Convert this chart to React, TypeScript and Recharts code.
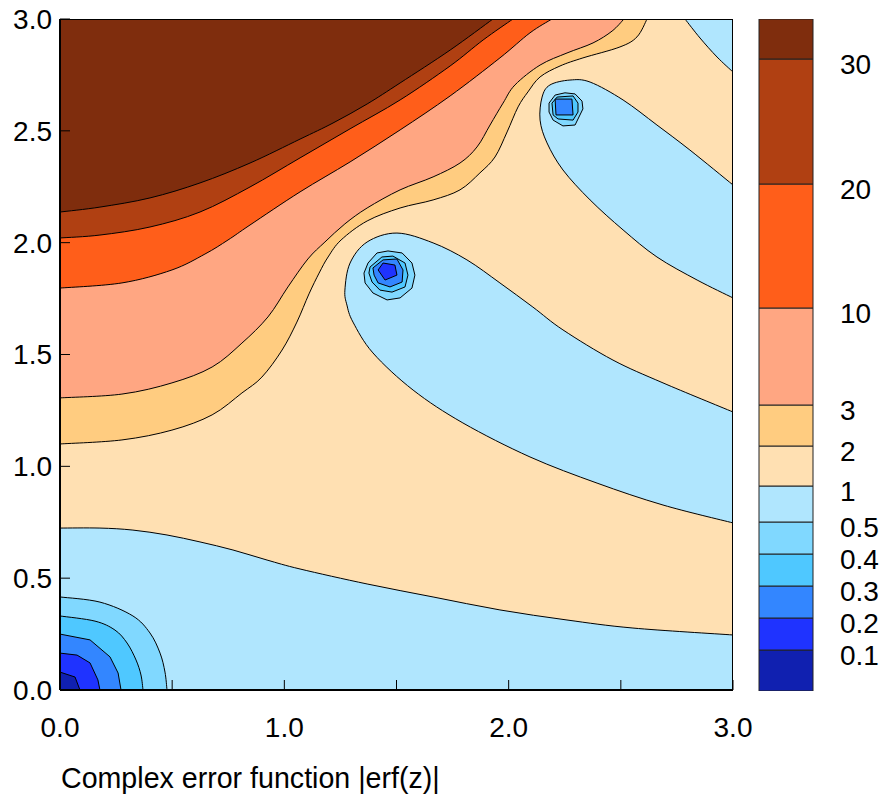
import { Bar, BarChart, Scatter, ScatterChart, XAxis, YAxis } from "recharts"

// Contour outlines of |erf(z)|, as [x, y] in plot units.
// Each one is a filled polygon; they are painted low level first, so the
// later (inner) levels cover the earlier ones.
const PLOT_BOX = [[0, 0], [0, 3], [3, 3], [3, 0], [0, 0]]

const ABOVE_2 = [
  [0, 1.1], [0.276, 1.118], [0.499, 1.162], [0.678, 1.23], [0.811, 1.328],
  [0.9, 1.399], [0.99, 1.52], [1.056, 1.645], [1.11, 1.771], [1.155, 1.864],
  [1.195, 1.936], [1.253, 2.012], [1.369, 2.097], [1.516, 2.155], [1.663, 2.191],
  [1.783, 2.236], [1.872, 2.312], [1.939, 2.383], [1.993, 2.495], [2.042, 2.607],
  [2.086, 2.674], [2.14, 2.741], [2.229, 2.79], [2.331, 2.826], [2.496, 2.875],
  [2.572, 2.92], [2.617, 3], [0, 3],
]
const ABOVE_3 = [
  [0, 1.306], [0.276, 1.323], [0.499, 1.373], [0.678, 1.444], [0.811, 1.551],
  [0.927, 1.668], [1.016, 1.802], [1.105, 1.927], [1.181, 2.003], [1.27, 2.084],
  [1.369, 2.155], [1.516, 2.236], [1.663, 2.294], [1.783, 2.356], [1.859, 2.428],
  [1.917, 2.526], [1.975, 2.624], [2.028, 2.705], [2.14, 2.794], [2.26, 2.848],
  [2.376, 2.893], [2.461, 2.946], [2.514, 3], [0, 3],
]
const ABOVE_10 = [
  [0, 1.797], [0.276, 1.82], [0.499, 1.878], [0.646, 1.949], [0.749, 2.012],
  [0.847, 2.079], [1.07, 2.227], [1.293, 2.361], [1.516, 2.504], [1.739, 2.656],
  [1.961, 2.826], [2.095, 2.938], [2.193, 3], [0, 3],
]
const ABOVE_20 = [
  [0, 2.021], [0.178, 2.034], [0.401, 2.07], [0.624, 2.137], [0.847, 2.249],
  [1.07, 2.379], [1.293, 2.509], [1.516, 2.638], [1.739, 2.79], [1.886, 2.906],
  [2.019, 3], [0, 3],
]
const ABOVE_30 = [
  [0, 2.137], [0.178, 2.159], [0.401, 2.2], [0.624, 2.267], [0.847, 2.356],
  [1.07, 2.463], [1.217, 2.535], [1.369, 2.62], [1.516, 2.714], [1.739, 2.861],
  [1.93, 3], [0, 3],
]

const BELOW_1_CORNER = [[2.786, 3], [2.853, 2.915], [2.929, 2.83], [3, 2.763], [3, 3]]
const BELOW_1_UPPER = [
  [3, 2.258], [2.808, 2.414], [2.661, 2.526], [2.51, 2.638], [2.363, 2.718],
  [2.273, 2.727], [2.184, 2.705], [2.149, 2.651], [2.14, 2.548], [2.171, 2.446],
  [2.242, 2.325], [2.363, 2.191], [2.51, 2.057], [2.661, 1.936], [2.84, 1.833],
  [3, 1.753],
]
const BELOW_1_LOWER = [
  [3, 1.243], [2.688, 1.373], [2.465, 1.475], [2.242, 1.61], [2.108, 1.712],
  [1.961, 1.82], [1.814, 1.923], [1.663, 1.999], [1.502, 2.043], [1.369, 2.003],
  [1.293, 1.909], [1.27, 1.788], [1.279, 1.721], [1.306, 1.645], [1.395, 1.507],
  [1.574, 1.341], [1.796, 1.194], [2.095, 1.042], [2.394, 0.925], [2.688, 0.827],
  [3, 0.747],
]
const BELOW_1_BOTTOM = [
  [0, 0.724], [0.178, 0.724], [0.325, 0.715], [0.477, 0.693], [0.624, 0.662],
  [0.771, 0.626], [0.923, 0.581], [1.07, 0.541], [1.369, 0.474], [1.663, 0.416],
  [1.961, 0.358], [2.26, 0.313], [2.554, 0.277], [3, 0.246], [3, 0], [0, 0],
]

// nested rings round the origin
const BELOW_05_ORIGIN = [
  [0, 0.416], [0.178, 0.393], [0.325, 0.331], [0.401, 0.255], [0.446, 0.165],
  [0.468, 0.08], [0.477, 0], [0, 0],
]
const BELOW_04_ORIGIN = [
  [0, 0.331], [0.156, 0.308], [0.245, 0.268], [0.299, 0.21], [0.339, 0.134],
  [0.361, 0.067], [0.37, 0], [0, 0],
]
const BELOW_03_ORIGIN = [[0, 0.25], [0.134, 0.224], [0.223, 0.148], [0.259, 0.076], [0.272, 0], [0, 0]]
const BELOW_02_ORIGIN = [[0, 0.165], [0.076, 0.156], [0.134, 0.121], [0.169, 0.045], [0.178, 0], [0, 0]]
const BELOW_01_ORIGIN = [[0, 0.08], [0.067, 0.058], [0.089, 0], [0, 0]]

// the zero near (1.45, 1.87)
const BELOW_05_ZERO_A = [
  [1.373, 1.909], [1.413, 1.954], [1.462, 1.963], [1.525, 1.954], [1.569, 1.909],
  [1.582, 1.855], [1.569, 1.797], [1.516, 1.753], [1.458, 1.744], [1.395, 1.775],
  [1.36, 1.82], [1.355, 1.864], [1.373, 1.909],
]
const BELOW_04_ZERO_A = [
  [1.382, 1.891], [1.435, 1.936], [1.484, 1.94], [1.538, 1.909], [1.551, 1.855],
  [1.538, 1.802], [1.48, 1.779], [1.426, 1.788], [1.391, 1.824], [1.377, 1.864],
  [1.382, 1.891],
]
const BELOW_03_ZERO_A = [
  [1.395, 1.887], [1.44, 1.923], [1.502, 1.927], [1.529, 1.878], [1.525, 1.824],
  [1.471, 1.802], [1.418, 1.82], [1.4, 1.855], [1.395, 1.887],
]
const BELOW_02_ZERO_A = [[1.418, 1.878], [1.44, 1.909], [1.493, 1.9], [1.502, 1.855], [1.449, 1.833], [1.418, 1.878]]

// the zero near (2.25, 2.6)
const BELOW_05_ZERO_B = [
  [2.18, 2.624], [2.207, 2.66], [2.251, 2.67], [2.296, 2.665], [2.327, 2.633],
  [2.331, 2.598], [2.296, 2.526], [2.242, 2.522], [2.198, 2.548], [2.18, 2.584],
  [2.18, 2.624],
]
const BELOW_04_ZERO_B = [
  [2.193, 2.624], [2.216, 2.651], [2.287, 2.656], [2.309, 2.624], [2.309, 2.584],
  [2.287, 2.548], [2.22, 2.553], [2.198, 2.571], [2.193, 2.624],
]
const BELOW_03_ZERO_B = [[2.207, 2.642], [2.282, 2.642], [2.287, 2.571], [2.211, 2.571], [2.207, 2.642]]

const AXIS_TICKS = [0, 0.5, 1, 1.5, 2, 2.5, 3]
const X_LABELED = [0, 1, 2, 3]

// colour bar, bottom to top
const BAND_COLORS = [
  "#1020b0", "#1f33ff", "#3386ff", "#4fc8ff", "#80d8ff", "#b0e6fe",
  "#ffe0b2", "#ffcc80", "#ffa682", "#ff5e1a", "#b04012", "#7f2d0d",
]
const BAND_SPANS = [41, 32, 32, 32, 32, 36, 40, 41, 97, 124, 125, 40]
const BAND_LABELS = ["0.1", "0.2", "0.3", "0.4", "0.5", "1", "2", "3", "10", "20", "30"]

const [c00, c01, c02, c03, c04, c05, c1, c2, c3, c10, c20, c30] = BAND_COLORS

// smooth: the big contours are drawn as curves, the small zero rings stay
// polygonal like in the source
const LAYERS = [
  { pts: PLOT_BOX, fill: c1, smooth: false },
  { pts: ABOVE_2, fill: c2, smooth: true },
  { pts: ABOVE_3, fill: c3, smooth: true },
  { pts: ABOVE_10, fill: c10, smooth: true },
  { pts: ABOVE_20, fill: c20, smooth: true },
  { pts: ABOVE_30, fill: c30, smooth: true },
  { pts: BELOW_1_CORNER, fill: c05, smooth: true },
  { pts: BELOW_1_UPPER, fill: c05, smooth: true },
  { pts: BELOW_1_LOWER, fill: c05, smooth: true },
  { pts: BELOW_1_BOTTOM, fill: c05, smooth: true },
  { pts: BELOW_05_ORIGIN, fill: c04, smooth: true },
  { pts: BELOW_04_ORIGIN, fill: c03, smooth: true },
  { pts: BELOW_03_ORIGIN, fill: c02, smooth: false },
  { pts: BELOW_02_ORIGIN, fill: c01, smooth: false },
  { pts: BELOW_01_ORIGIN, fill: c00, smooth: false },
  { pts: BELOW_05_ZERO_A, fill: c04, smooth: false },
  { pts: BELOW_04_ZERO_A, fill: c03, smooth: false },
  { pts: BELOW_03_ZERO_A, fill: c02, smooth: false },
  { pts: BELOW_02_ZERO_A, fill: c01, smooth: false },
  { pts: BELOW_05_ZERO_B, fill: c04, smooth: false },
  { pts: BELOW_04_ZERO_B, fill: c03, smooth: false },
  { pts: BELOW_03_ZERO_B, fill: c02, smooth: false },
]

const FONT = "'Liberation Sans', Arial, sans-serif"
const FONT_SIZE = 28

const toPts = (a: number[][]) => a.map(([x, y]) => ({ x, y }))
const noDot = () => <g />

// a segment running along the plot frame is kept straight
const alongFrame = (a: number[], b: number[]) =>
  (a[0] === b[0] && (a[0] === 0 || a[0] === 3)) ||
  (a[1] === b[1] && (a[1] === 0 || a[1] === 3))

type XY = { x: number; y: number }

/** Filled contour path through the scatter's pixel points (Catmull-Rom). */
function ContourPath({
  points,
  data,
  fill,
  smooth,
}: {
  points: XY[]
  data: number[][]
  fill: string
  smooth: boolean
}) {
  if (!points || points.length < 2) return null
  let d = `M${points[0].x},${points[0].y}`
  for (let i = 0; i < points.length - 1; i++) {
    const p1 = points[i]
    const p2 = points[i + 1]
    if (!smooth || alongFrame(data[i], data[i + 1])) {
      d += `L${p2.x},${p2.y}`
      continue
    }
    const p0 = i > 0 && !alongFrame(data[i - 1], data[i]) ? points[i - 1] : p1
    const p3 =
      i + 2 < points.length && !alongFrame(data[i + 1], data[i + 2])
        ? points[i + 2]
        : p2
    const c1x = p1.x + (p2.x - p0.x) / 6
    const c1y = p1.y + (p2.y - p0.y) / 6
    const c2x = p2.x - (p3.x - p1.x) / 6
    const c2y = p2.y - (p3.y - p1.y) / 6
    d += `C${c1x},${c1y} ${c2x},${c2y} ${p2.x},${p2.y}`
  }
  return (
    <path d={d} fill={fill} stroke="#000" strokeWidth={1} strokeLinejoin="round" />
  )
}

const bandBounds = BAND_SPANS.slice(0, -1).reduce<number[]>(
  (acc, s) => [...acc, (acc[acc.length - 1] ?? 0) + s],
  []
)
const bandTotal = BAND_SPANS.reduce((a, b) => a + b, 0)
const bandRow = Object.fromEntries(BAND_SPANS.map((s, i) => [`b${i}`, s]))

function BandTick({ x, y, payload }: any) {
  const i = bandBounds.indexOf(payload.value)
  return (
    <text x={x} y={y} dy={15} fontSize={FONT_SIZE} fill="#000" fontFamily={FONT}>
      {BAND_LABELS[i]}
    </text>
  )
}

const CHART = {
  width: 760,
  height: 797,
  margin: { top: 19, right: 27, bottom: 47, left: 0 },
}

export default function App() {
  const tickStyle = { fontSize: FONT_SIZE, fill: "#000", fontFamily: FONT }
  return (
    <div
      style={{
        position: "absolute",
        left: 0,
        top: 0,
        width: 883,
        height: 797,
        background: "#fff",
        fontFamily: FONT,
      }}
    >
      {/* filled contours */}
      <div style={{ position: "absolute", left: 0, top: 0 }}>
        <ScatterChart {...CHART}>
          <XAxis
            type="number"
            dataKey="x"
            domain={[0, 3]}
            allowDataOverflow
            height={60}
            tick={false}
            tickLine={false}
            axisLine={false}
          />
          <YAxis
            type="number"
            dataKey="y"
            domain={[0, 3]}
            allowDataOverflow
            width={60}
            tick={false}
            tickLine={false}
            axisLine={false}
          />
          {LAYERS.map((layer, i) => (
            <Scatter
              key={i}
              data={toPts(layer.pts)}
              line={(p: any) => (
                <ContourPath
                  points={p.points}
                  data={layer.pts}
                  fill={layer.fill}
                  smooth={layer.smooth}
                />
              )}
              shape={noDot}
              legendType="none"
              isAnimationActive={false}
            />
          ))}
        </ScatterChart>
      </div>

      {/* frame, inward ticks and tick labels on top of the fills */}
      <div style={{ position: "absolute", left: 0, top: 0 }}>
        <ScatterChart {...CHART}>
          <XAxis
            type="number"
            dataKey="x"
            domain={[0, 3]}
            allowDataOverflow
            ticks={AXIS_TICKS}
            interval={0}
            height={60}
            tickSize={-10}
            tickMargin={37}
            tickFormatter={(v: number) => (X_LABELED.includes(v) ? v.toFixed(1) : "")}
            axisLine={{ stroke: "#000", strokeWidth: 2 }}
            tickLine={{ stroke: "#000" }}
            tick={tickStyle}
          />
          <YAxis
            type="number"
            dataKey="y"
            domain={[0, 3]}
            allowDataOverflow
            ticks={AXIS_TICKS}
            interval={0}
            width={60}
            tickSize={-10}
            tickMargin={18}
            tickFormatter={(v: number) => v.toFixed(1)}
            axisLine={{ stroke: "#000", strokeWidth: 2 }}
            tickLine={{ stroke: "#000" }}
            tick={tickStyle}
          />
          <Scatter
            data={toPts(PLOT_BOX)}
            line={{ fill: "none", stroke: "#000", strokeWidth: 2 }}
            shape={noDot}
            legendType="none"
            isAnimationActive={false}
          />
        </ScatterChart>
      </div>

      <div style={{ position: "absolute", left: 740, top: 0 }}>
        <BarChart
          width={143}
          height={797}
          data={[{ name: "bar", ...bandRow }]}
          margin={{ top: 19, right: 0, bottom: 106, left: 19 }}
          barCategoryGap={0}
        >
          <XAxis dataKey="name" hide />
          <YAxis
            orientation="right"
            type="number"
            domain={[0, bandTotal]}
            allowDataOverflow
            ticks={bandBounds}
            interval={0}
            width={70}
            axisLine={false}
            tickLine={false}
            tickSize={0}
            tickMargin={27}
            tick={<BandTick />}
          />
          {BAND_SPANS.map((_, i) => (
            <Bar
              key={i}
              dataKey={`b${i}`}
              stackId="bar"
              fill={BAND_COLORS[i]}
              stroke="#222"
              strokeWidth={1}
              isAnimationActive={false}
            />
          ))}
        </BarChart>
      </div>

      <div
        style={{
          position: "absolute",
          left: 61,
          top: 764,
          fontSize: 28.6,
          lineHeight: 1,
          color: "#000",
          whiteSpace: "nowrap",
        }}
      >
        Complex error function |erf(z)|
      </div>
    </div>
  )
}
